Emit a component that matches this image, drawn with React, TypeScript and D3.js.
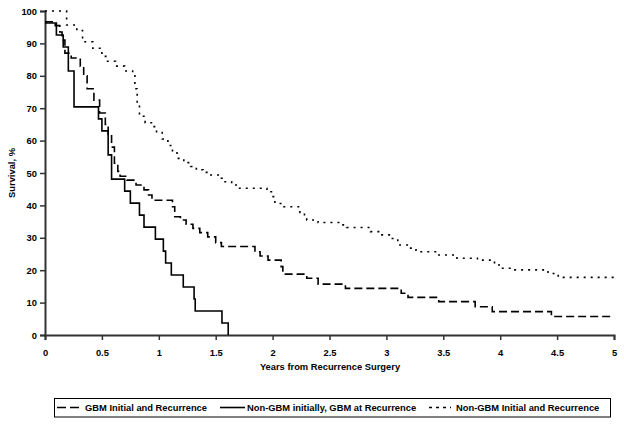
import React, { useEffect, useRef } from "react";
import * as d3 from "d3";

// GBM Initial and Recurrence (dashed)
const gbmTimes = [0, 0.09, 0.13, 0.15, 0.175, 0.23, 0.31, 0.34, 0.37, 0.43, 0.48, 0.53, 0.555, 0.585, 0.61, 0.64, 0.66, 0.72, 0.8, 0.87, 0.91, 0.94, 1.12, 1.14, 1.19, 1.24, 1.3, 1.36, 1.43, 1.5, 1.55, 1.845, 1.89, 1.96, 2.075, 2.09, 2.3, 2.4, 2.64, 3.13, 3.19, 3.46, 3.78, 3.93, 4.45, 5.0];
const gbmValues = [96.7, 95.5, 93.5, 91, 87, 85.5, 83, 80, 76, 72.5, 68.5, 65, 62, 58, 53, 50.5, 49, 47.8, 46.3, 44.8, 43.2, 41.6, 39.6, 36.5, 35.5, 34.2, 32.9, 31.6, 30.3, 28.5, 27.3, 25.7, 24.4, 23.1, 21.1, 18.8, 17.5, 15.7, 14.4, 12.9, 11.6, 10.3, 8.7, 7.2, 5.7, 5.7];

// Non-GBM initially, GBM at Recurrence (solid)
const nonGbmGbmTimes = [0, 0.1, 0.16, 0.205, 0.255, 0.47, 0.5, 0.555, 0.585, 0.7, 0.75, 0.83, 0.87, 0.97, 1.04, 1.06, 1.11, 1.215, 1.31, 1.32, 1.555, 1.61];
const nonGbmGbmValues = [96.3, 92.6, 88.9, 81.5, 70.4, 66.7, 63.0, 55.6, 48.1, 44.4, 40.7, 37.0, 33.3, 29.6, 25.9, 22.2, 18.5, 14.8, 11.1, 7.4, 3.7, 0];

// Non-GBM Initial and Recurrence (dotted)
const nonGbmTimes = [0, 0.19, 0.28, 0.33, 0.42, 0.5, 0.55, 0.62, 0.7, 0.77, 0.79, 0.81, 0.83, 0.88, 0.95, 0.98, 1.03, 1.08, 1.12, 1.16, 1.22, 1.28, 1.33, 1.39, 1.45, 1.55, 1.57, 1.64, 1.71, 1.95, 1.99, 2.02, 2.1, 2.24, 2.28, 2.3, 2.4, 2.59, 2.65, 2.86, 2.94, 3.04, 3.1, 3.2, 3.26, 3.44, 3.62, 3.8, 3.95, 4.01, 4.1, 4.42, 4.51, 5.0];
const nonGbmValues = [100, 95.7, 94, 90.5, 88.5, 86, 84.5, 83, 81.5, 80, 76, 71, 67.5, 65.5, 64.3, 62.5, 60.5, 58.5, 56.5, 54.5, 53.2, 52, 51, 50.2, 49.4, 48.4, 47.3, 46.3, 45.3, 44.2, 42.7, 40.6, 39.6, 37.8, 36.5, 35.5, 34.7, 34, 33.2, 31.9, 30.9, 29.8, 27.8, 26.8, 25.7, 24.7, 23.7, 23.1, 21.6, 20.6, 20.1, 19.0, 17.8, 17.8];

const xTicks = [0, 0.5, 1, 1.5, 2, 2.5, 3, 3.5, 4, 4.5, 5];
const yTicks = [0, 10, 20, 30, 40, 50, 60, 70, 80, 90, 100];

const seriesNames = ["GBM Initial and Recurrence", "Non-GBM initially, GBM at Recurrence", "Non-GBM Initial and Recurrence"];

const FONT = "'Liberation Sans', Arial, sans-serif";
const FS = 9.35;

export default function App() {
  const ref = useRef<SVGSVGElement>(null);

  useEffect(() => {
    const svg = d3.select(ref.current);
    svg.selectAll("*").remove();

    const x = d3.scaleLinear().domain([0, 5]).range([45, 614]);
    const y = d3.scaleLinear().domain([0, 100]).range([335, 11]);

    const axisColor = "#333";

    // Y axis
    const yAxis = svg.append("g").attr("transform", "translate(45,0)")
      .call(d3.axisLeft(y).tickValues(yTicks).tickSize(5).tickPadding(3).tickFormat(d3.format("d")));
    yAxis.select(".domain").attr("stroke", axisColor).attr("stroke-width", 2);
    yAxis.selectAll(".tick line").attr("stroke", axisColor).attr("stroke-width", 1.5);
    yAxis.selectAll(".tick text").attr("font-family", FONT).attr("font-size", FS).attr("font-weight", "bold").attr("fill", "#000");

    // X axis
    const xAxis = svg.append("g").attr("transform", "translate(0,335)")
      .call(d3.axisBottom(x).tickValues(xTicks).tickSize(5).tickPadding(9).tickFormat((d: any) => String(d)));
    xAxis.select(".domain").attr("stroke", axisColor).attr("stroke-width", 2);
    xAxis.selectAll(".tick line").attr("stroke", axisColor).attr("stroke-width", 1.5);
    xAxis.selectAll(".tick text").attr("font-family", FONT).attr("font-size", FS).attr("font-weight", "bold").attr("fill", "#000");

    // Titles
    svg.append("text").attr("x", 330).attr("y", 370).attr("text-anchor", "middle")
      .attr("font-family", FONT).attr("font-size", FS).attr("font-weight", "bold").text("Years from Recurrence Surgery");
    svg.append("text").attr("transform", "translate(15,173) rotate(-90)").attr("text-anchor", "middle")
      .attr("font-family", FONT).attr("font-size", FS).attr("font-weight", "bold").text("Survival, %");

    const line = d3.line<[number, number]>().x(d => x(d[0])).y(d => y(d[1])).curve(d3.curveStepAfter);

    const series = [
      { t: gbmTimes, v: gbmValues, dash: "8,4" },
      { t: nonGbmGbmTimes, v: nonGbmGbmValues, dash: null },
      { t: nonGbmTimes, v: nonGbmValues, dash: "2,5" },
    ];
    const plot = svg.append("g");
    series.forEach(s => {
      const pts: [number, number][] = s.t.map((t, i) => [t, s.v[i]]);
      const p = plot.append("path").attr("d", line(pts)).attr("fill", "none")
        .attr("stroke", "#000").attr("stroke-width", 1.6);
      if (s.dash) p.attr("stroke-dasharray", s.dash);
    });

    // Legend
    const lg = svg.append("g");
    lg.append("rect").attr("x", 54.5).attr("y", 398.5).attr("width", 556).attr("height", 18.5)
      .attr("fill", "none").attr("stroke", "#000").attr("stroke-width", 1);
    const items = [
      { x1: 57, x2: 79, tx: 85, dash: "9,4" },
      { x1: 220, x2: 245, tx: 247, dash: null },
      { x1: 429, x2: 451, tx: 456, dash: "3,4" },
    ];
    items.forEach((it, i) => {
      const l = lg.append("line").attr("x1", it.x1).attr("x2", it.x2).attr("y1", 407.5).attr("y2", 407.5)
        .attr("stroke", "#000").attr("stroke-width", 1.6);
      if (it.dash) l.attr("stroke-dasharray", it.dash);
      lg.append("text").attr("x", it.tx).attr("y", 411).attr("font-family", FONT).attr("font-size", FS)
        .attr("font-weight", "bold").text(seriesNames[i]);
    });
  }, []);

  return (
    <svg ref={ref} width={624} height={425} style={{ position: "absolute", left: 0, top: 0, background: "#fff" }} />
  );
}
